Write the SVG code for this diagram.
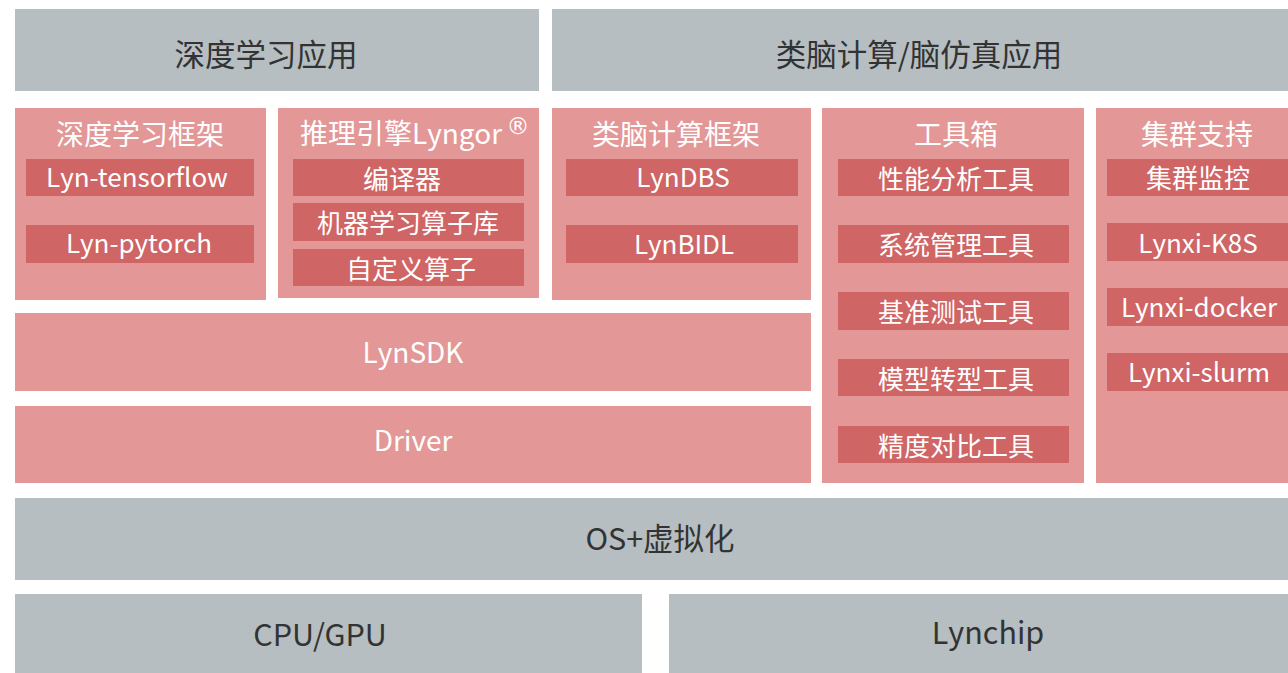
<svg xmlns="http://www.w3.org/2000/svg" width="1288" height="673" viewBox="0 0 1288 673">
<style>
text{font-family:"Noto Sans CJK SC","Source Han Sans SC","Noto Sans",sans-serif;text-anchor:middle;dominant-baseline:central}
.gray{fill:#b6bec1}
.pink{fill:#e39797}
.sub{fill:#cf6565}
.gt{fill:#333333;font-size:30.5px}
.pt{fill:#ffffff;font-size:28px}
.st{fill:#ffffff;font-size:26px}
.bt{fill:#ffffff;font-size:28px}
.reg{fill:#ffffff;font-family:"DejaVu Sans",sans-serif;font-size:23px}
</style>
<rect width="1288" height="673" fill="#ffffff"/>
<g id="dl-app"><rect class="gray" x="15" y="9" width="524" height="82"/><text class="gt" x="266" y="53">深度学习应用</text></g>
<g id="brain-app"><rect class="gray" x="552" y="9" width="736" height="82"/><text class="gt" x="919" y="53">类脑计算/脑仿真应用</text></g>

<g id="dl-framework"><rect class="pink" x="15" y="108" width="251" height="192"/><text class="pt" x="140" y="133">深度学习框架</text>
<g id="lyn-tensorflow"><rect class="sub" x="26" y="159" width="228" height="37"/><text class="st" x="137" y="175">Lyn-tensorflow</text></g>
<g id="lyn-pytorch"><rect class="sub" x="26" y="225" width="228" height="38"/><text class="st" x="139" y="241">Lyn-pytorch</text></g>
</g>

<g id="lyngor"><rect class="pink" x="278" y="108" width="261" height="190"/><text class="pt" x="401" y="132">推理引擎Lyngor</text><text class="reg" x="518" y="126">®</text>
<g id="compiler"><rect class="sub" x="293" y="159" width="231" height="37"/><text class="st" x="402" y="177">编译器</text></g>
<g id="ml-ops"><rect class="sub" x="293" y="203" width="231" height="38"/><text class="st" x="408" y="221">机器学习算子库</text></g>
<g id="custom-ops"><rect class="sub" x="293" y="249" width="231" height="37"/><text class="st" x="411" y="267">自定义算子</text></g>
</g>

<g id="brain-framework"><rect class="pink" x="552" y="108" width="259" height="192"/><text class="pt" x="676" y="133">类脑计算框架</text>
<g id="lyndbs"><rect class="sub" x="566" y="159" width="232" height="37"/><text class="st" x="683" y="175">LynDBS</text></g>
<g id="lynbidl"><rect class="sub" x="566" y="225" width="232" height="38"/><text class="st" x="684" y="242">LynBIDL</text></g>
</g>

<g id="toolbox"><rect class="pink" x="822" y="108" width="262" height="375"/><text class="pt" x="956" y="133">工具箱</text>
<g id="perf"><rect class="sub" x="838" y="159" width="231" height="37"/><text class="st" x="956" y="177">性能分析工具</text></g>
<g id="sysmgmt"><rect class="sub" x="838" y="225" width="231" height="38"/><text class="st" x="956" y="243">系统管理工具</text></g>
<g id="bench"><rect class="sub" x="838" y="292" width="231" height="38"/><text class="st" x="956" y="310">基准测试工具</text></g>
<g id="convert"><rect class="sub" x="838" y="359" width="231" height="37"/><text class="st" x="956" y="377">模型转型工具</text></g>
<g id="accuracy"><rect class="sub" x="838" y="426" width="231" height="37"/><text class="st" x="956" y="444">精度对比工具</text></g>
</g>

<g id="cluster"><rect class="pink" x="1096" y="108" width="192" height="375"/><text class="pt" x="1197" y="133">集群支持</text>
<g id="monitor"><rect class="sub" x="1107" y="159" width="181" height="37"/><text class="st" x="1198" y="176">集群监控</text></g>
<g id="k8s"><rect class="sub" x="1107" y="223" width="181" height="38"/><text class="st" x="1198" y="241">Lynxi-K8S</text></g>
<g id="docker"><rect class="sub" x="1107" y="288" width="181" height="38"/><text class="st" x="1199" y="305">Lynxi-docker</text></g>
<g id="slurm"><rect class="sub" x="1107" y="353" width="181" height="38"/><text class="st" x="1199" y="370">Lynxi-slurm</text></g>
</g>

<g id="lynsdk"><rect class="pink" x="15" y="313" width="796" height="78"/><text class="bt" x="413" y="351">LynSDK</text></g>
<g id="driver"><rect class="pink" x="15" y="406" width="796" height="77"/><text class="bt" x="413" y="439">Driver</text></g>

<g id="os"><rect class="gray" x="15" y="498" width="1273" height="82"/><text class="gt" x="660" y="537">OS+虚拟化</text></g>
<g id="cpu-gpu"><rect class="gray" x="15" y="594" width="627" height="79"/><text class="gt" x="320" y="633">CPU/GPU</text></g>
<g id="lynchip"><rect class="gray" x="669" y="594" width="619" height="79"/><text class="gt" x="988" y="631">Lynchip</text></g>

<g id="connectors"></g>
</svg>
